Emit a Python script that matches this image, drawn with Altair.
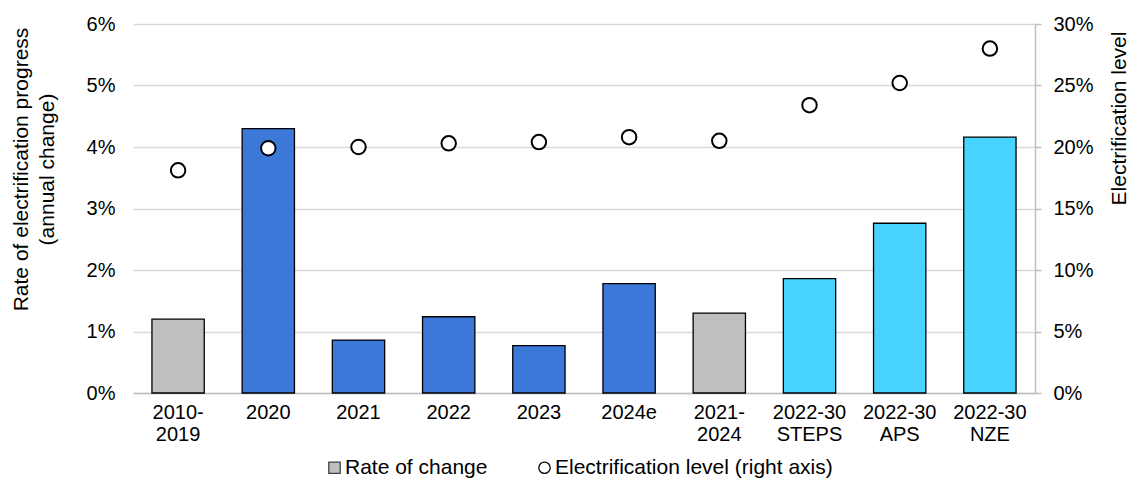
import altair as alt
import pandas as pd

categories = ["2010-\n2019", "2020", "2021", "2022", "2023", "2024e",
              "2021-\n2024", "2022-30\nSTEPS", "2022-30\nAPS", "2022-30\nNZE"]
rate_of_change_pct = [1.20, 4.30, 0.86, 1.24, 0.77, 1.78, 1.30, 1.86, 2.76, 4.16]
electrification_level_pct = [18.1, 19.9, 20.0, 20.3, 20.4, 20.8, 20.5, 23.4, 25.2, 28.0]
bar_group = ["Average", "Annual", "Annual", "Annual", "Annual", "Annual",
             "Average", "Scenario", "Scenario", "Scenario"]
group_names = ["Average", "Annual", "Scenario"]
group_colors = ["#BFBFBF", "#3C78D8", "#48D3FF"]
legend_items = ["Rate of change", "Electrification level (right axis)"]

df = pd.DataFrame({
    "category": categories,
    "rate": [v / 100 for v in rate_of_change_pct],
    "level": [v / 100 for v in electrification_level_pct],
    "group": bar_group,
    "series": legend_items[1],
})

FONT = "Liberation Sans"
FS = 20
TFS = 21

x = alt.X(
    "category:N", sort=categories,
    scale=alt.Scale(paddingInner=0.42, paddingOuter=0.21),
    axis=alt.Axis(title=None, labelExpr="split(datum.label, '\\n')", labelAngle=0,
                  ticks=False, domainColor="#BFBFBF", domainWidth=1.5,
                  labelPadding=9, labelLineHeight=22),
)

bars = alt.Chart(df).mark_bar(stroke="black", strokeWidth=1.3).encode(
    x=x,
    y=alt.Y("rate:Q", scale=alt.Scale(domain=[0, 0.06]),
            axis=alt.Axis(title=["Rate of electrification progress", "(annual change)"],
                          format=".0%", values=[0, 0.01, 0.02, 0.03, 0.04, 0.05, 0.06],
                          domain=False, ticks=False, gridColor="#D9D9D9", gridWidth=1.5,
                          labelPadding=18, titlePadding=29, titleY=145,
                          titleLineHeight=26)),
    color=alt.Color("group:N", scale=alt.Scale(domain=group_names, range=group_colors),
                    legend=None),
)

legend = alt.Legend(title=None, orient="none", direction="horizontal",
                    legendX=191, legendY=433,
                    symbolStrokeWidth=1.3, symbolSize=130, labelFontSize=TFS,
                    labelColor="black", labelOffset=0, columnPadding=46,
                    labelFont=FONT, labelLimit=0)

points = alt.Chart(df).mark_point(filled=True, size=210, strokeWidth=2, opacity=1).encode(
    x=x,
    y=alt.Y("level:Q", scale=alt.Scale(domain=[0, 0.3]),
            axis=alt.Axis(orient="right", title="Electrification level",
                          format=".0%", values=[0, 0.05, 0.1, 0.15, 0.2, 0.25, 0.3],
                          grid=False, domain=True, domainColor="#BFBFBF", domainWidth=1.5,
                          ticks=True, tickColor="#BFBFBF", tickSize=6, tickWidth=1.5,
                          labelPadding=12, titlePadding=36, titleY=94, titleAngle=270)),
    fill=alt.Fill("series:N", scale=alt.Scale(domain=legend_items, range=["#BFBFBF", "#FFFFFF"]),
                  legend=legend),
    shape=alt.Shape("series:N", scale=alt.Scale(domain=legend_items, range=["square", "circle"]),
                    legend=legend),
    stroke=alt.Stroke("series:N", scale=alt.Scale(domain=legend_items, range=["#404040", "#000000"]),
                      legend=legend),
)

chart = alt.layer(bars, points).resolve_scale(y="independent").properties(
    width=902, height=369,
    padding={"left": 2, "top": 6, "right": 0, "bottom": 0},
).configure(font=FONT).configure_view(stroke=None).configure_axis(
    labelFont=FONT, titleFont=FONT, labelFontSize=FS, titleFontSize=TFS,
    titleFontWeight="normal", labelColor="black", titleColor="black",
)

chart.save("out.html", embed_options={"renderer": "svg", "actions": False})
